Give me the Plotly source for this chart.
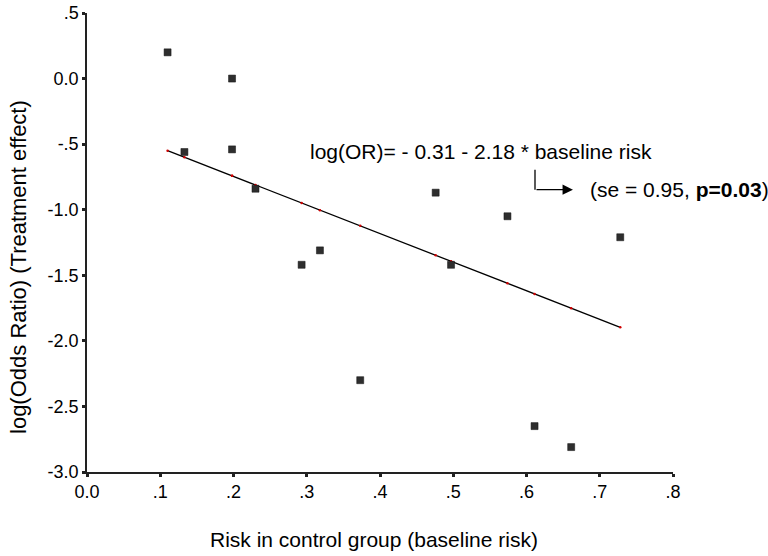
import plotly.graph_objects as go

# Data
baseline_risk = [0.110, 0.133, 0.198, 0.198, 0.230, 0.293, 0.318, 0.373, 0.476, 0.497, 0.574, 0.611, 0.661, 0.728]
log_or = [0.20, -0.56, 0.00, -0.54, -0.84, -1.42, -1.31, -2.30, -0.87, -1.42, -1.05, -2.65, -2.81, -1.21]

intercept = -0.31
slope = -2.18

x_ticks = [0.0, 0.1, 0.2, 0.3, 0.4, 0.5, 0.6, 0.7, 0.8]
x_ticktext = ["0.0", ".1", ".2", ".3", ".4", ".5", ".6", ".7", ".8"]
y_ticks = [0.5, 0.0, -0.5, -1.0, -1.5, -2.0, -2.5, -3.0]
y_ticktext = [".5", "0.0", "-.5", "-1.0", "-1.5", "-2.0", "-2.5", "-3.0"]

xs_sorted = sorted(baseline_risk)
fitted = [intercept + slope * v for v in xs_sorted]

FONT = "Liberation Sans, Arial, sans-serif"

fig = go.Figure()
fig.add_trace(go.Scatter(
    x=xs_sorted, y=fitted, mode="lines+markers",
    line=dict(color="black", width=1.3),
    marker=dict(color="#d00000", size=2.5, symbol="circle"),
    hoverinfo="skip", showlegend=False,
))
fig.add_trace(go.Scatter(
    x=baseline_risk, y=log_or, mode="markers",
    marker=dict(color="#2e2e2e", size=7, symbol="square",
                line=dict(color="#111", width=0.5)),
    showlegend=False,
))

# equation label and arrow
fig.add_annotation(
    x=0.302, y=-0.555, xref="x", yref="y",
    text="log(OR)= - 0.31 - 2.18 * baseline risk",
    showarrow=False, xanchor="left", yanchor="middle",
    font=dict(family=FONT, size=21, color="black"),
)
fig.add_shape(type="line", xref="x", yref="y",
              x0=0.6116, x1=0.6116, y0=-0.695, y1=-0.847,
              line=dict(color="black", width=1.3))
fig.add_annotation(
    x=0.6634, y=-0.847, ax=0.6116, ay=-0.847,
    xref="x", yref="y", axref="x", ayref="y",
    text="", showarrow=True, arrowhead=2, arrowsize=1.6,
    arrowwidth=1.3, arrowcolor="black", standoff=0,
)
fig.add_annotation(
    x=0.684, y=-0.847, xref="x", yref="y",
    text="(se = 0.95, <b>p=0.03</b>)",
    showarrow=False, xanchor="left", yanchor="middle",
    font=dict(family=FONT, size=21, color="black"),
)

# axis titles
fig.add_annotation(
    x=0.49, y=-0.148, xref="paper", yref="paper",
    text="Risk in control group (baseline risk)",
    showarrow=False, xanchor="center", yanchor="middle",
    font=dict(family=FONT, size=21, color="black"),
)
fig.add_annotation(
    x=-0.117, y=0.4476, xref="paper", yref="paper",
    text="log(Odds Ratio) (Treatment effect)", textangle=-90,
    showarrow=False, xanchor="center", yanchor="middle",
    font=dict(family=FONT, size=22, color="black"),
)

axis_common = dict(
    showgrid=False, zeroline=False, showline=True,
    linecolor="#222", linewidth=1.5,
    ticks="outside", ticklen=3, tickwidth=3, tickcolor="#222",
    tickfont=dict(family=FONT, size=18, color="black"),
    automargin=False,
)
fig.update_xaxes(range=[0, 0.8], tickvals=x_ticks, ticktext=x_ticktext, **axis_common)
fig.update_yaxes(range=[-3.0, 0.5], tickvals=y_ticks, ticktext=y_ticktext, **axis_common)

fig.update_layout(
    width=768, height=556,
    margin=dict(l=87, r=95, t=13, b=84, autoexpand=False),
    plot_bgcolor="white", paper_bgcolor="white",
    font=dict(family=FONT),
)

fig.write_html("out.html")
